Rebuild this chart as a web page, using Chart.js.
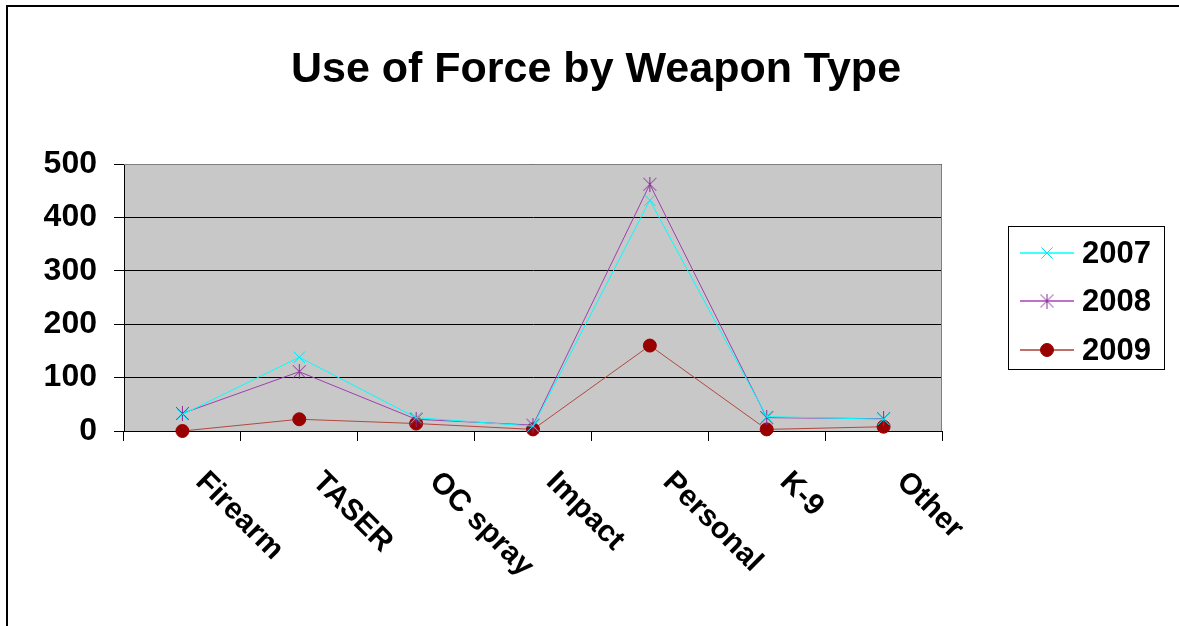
<!DOCTYPE html>
<html>
<head>
<meta charset="utf-8">
<title>Use of Force by Weapon Type</title>
<script src="https://cdn.jsdelivr.net/npm/chart.js@4"></script>
<style>
    body { margin: 0; background: #fff; }
    #wrap { width: 1179px; height: 626px; }
</style>
</head>
<body>
<div id="wrap"><canvas id="forceChart" width="1179" height="626"></canvas></div>
<script>
// Data
var weaponTypes = ['Firearm', 'TASER', 'OC spray', 'Impact', 'Personal', 'K-9', 'Other'];
var years = ['2007', '2008', '2009'];
var values2007 = [31, 138, 25, 9, 432, 27, 22];
var values2008 = [33, 111, 22, 11, 462, 25, 23];
var values2009 = [0, 22, 14, 3, 160, 3, 8];
var yTicks = [0, 100, 200, 300, 400, 500];

var FONT = '"Liberation Sans", Arial, sans-serif';

// Excel style asterisk marker (X with a vertical bar)
function starMarker(color) {
    var c = document.createElement('canvas');
    c.width = 15;
    c.height = 15;
    var g = c.getContext('2d');
    g.strokeStyle = color;
    g.lineWidth = 1;
    g.beginPath();
    g.moveTo(1, 1); g.lineTo(14, 14);
    g.moveTo(14, 1); g.lineTo(1, 14);
    g.moveTo(7.5, 0); g.lineTo(7.5, 15);
    g.stroke();
    return c;
}

// Plot background, frame, title, rotated category labels and legend
var decorPlugin = {
    id: 'decor',
    beforeDraw: function (chart) {
        var ctx = chart.ctx;
        var a = chart.chartArea;
        ctx.save();
        ctx.fillStyle = '#c8c8c8';
        ctx.fillRect(a.left, a.top, a.right - a.left, a.bottom - a.top);
        ctx.restore();
    },
    beforeDatasetsDraw: function (chart) {
        var ctx = chart.ctx;
        var a = chart.chartArea;
        ctx.save();
        ctx.strokeStyle = '#808080';
        ctx.lineWidth = 1;
        ctx.beginPath();
        ctx.moveTo(a.left, a.top + 0.5);
        ctx.lineTo(a.right - 0.5, a.top + 0.5);
        ctx.lineTo(a.right - 0.5, a.bottom);
        ctx.stroke();
        ctx.restore();
    },
    afterDraw: function (chart) {
        var ctx = chart.ctx;
        ctx.save();

        // outer frame
        ctx.strokeStyle = '#000';
        ctx.lineWidth = 2;
        ctx.beginPath();
        ctx.moveTo(7, 640);
        ctx.lineTo(7, 6);
        ctx.lineTo(1190, 6);
        ctx.stroke();

        // title
        ctx.fillStyle = '#000';
        ctx.font = 'bold 43px ' + FONT;
        ctx.textAlign = 'center';
        ctx.textBaseline = 'alphabetic';
        ctx.fillText('Use of Force by Weapon Type', 596, 82);

        // category labels, rotated 45 degrees clockwise
        var xScale = chart.scales.x;
        ctx.font = 'bold 30px ' + FONT;
        ctx.textAlign = 'left';
        chart.data.labels.forEach(function (label, i) {
            var x = xScale.getPixelForValue(i);
            ctx.save();
            ctx.translate(x + 12, 483);
            ctx.rotate(Math.PI / 4);
            ctx.fillText(label, 0, 0);
            ctx.restore();
        });

        // legend
        ctx.lineWidth = 1;
        ctx.strokeStyle = '#000';
        ctx.strokeRect(1008.5, 226.5, 156, 143);
        var rowY = [253, 301, 350];
        ctx.font = 'bold 31px ' + FONT;
        ctx.textBaseline = 'middle';
        chart.data.datasets.forEach(function (ds, i) {
            var y = rowY[i];
            ctx.strokeStyle = ds.legendLine;
            ctx.lineWidth = 2;
            ctx.beginPath();
            ctx.moveTo(1020, y);
            ctx.lineTo(1074, y);
            ctx.stroke();
            ctx.fillStyle = ds.pointBackgroundColor;
            ctx.strokeStyle = ds.pointBorderColor;
            ctx.lineWidth = 1;
            Chart.helpers.drawPoint(ctx, {
                pointStyle: ds.pointStyle,
                radius: ds.pointRadius,
                rotation: 0,
                borderWidth: 1
            }, 1047, y);
            ctx.fillStyle = '#000';
            ctx.fillText(ds.label, 1082, y + 1);
        });

        ctx.restore();
    }
};

var ctx = document.getElementById('forceChart').getContext('2d');
var forceChart = new Chart(ctx, {
    type: 'line',
    data: {
        labels: weaponTypes,
        datasets: [{
            label: years[0],
            data: values2007,
            borderColor: '#00ffff',
            legendLine: '#40ffff',
            borderWidth: 1,
            pointStyle: 'crossRot',
            pointRadius: 8,
            pointBorderColor: '#00e8f0',
            pointBackgroundColor: '#00e8f0',
            pointBorderWidth: 1
        }, {
            label: years[1],
            data: values2008,
            borderColor: '#a040b0',
            legendLine: '#c070c8',
            borderWidth: 1,
            pointStyle: starMarker('#8a2a9a'),
            pointRadius: 7,
            pointBorderColor: '#8a2a9a',
            pointBackgroundColor: '#8a2a9a',
            pointBorderWidth: 1
        }, {
            label: years[2],
            data: values2009,
            borderColor: '#b04a40',
            legendLine: '#c07068',
            borderWidth: 1,
            pointStyle: 'circle',
            pointRadius: 6.5,
            pointBorderColor: '#990000',
            pointBackgroundColor: '#990000',
            pointBorderWidth: 1
        }]
    },
    options: {
        responsive: false,
        animation: false,
        clip: false,
        layout: {
            padding: { top: 164, right: 237, bottom: 0, left: 0 }
        },
        plugins: {
            legend: { display: false },
            title: { display: false },
            tooltip: { enabled: false }
        },
        elements: {
            line: { tension: 0 }
        },
        scales: {
            x: {
                offset: true,
                afterFit: function (scale) { scale.height = 195; },
                ticks: { display: false },
                grid: {
                    offset: true,
                    drawOnChartArea: false,
                    drawTicks: true,
                    tickLength: 10,
                    color: '#000'
                },
                border: { color: '#000', width: 1 }
            },
            y: {
                min: yTicks[0],
                max: yTicks[yTicks.length - 1],
                afterFit: function (scale) { scale.width = 124; },
                afterBuildTicks: function (scale) {
                    scale.ticks = yTicks.map(function (v) { return { value: v }; });
                },
                ticks: {
                    padding: 17,
                    color: '#000',
                    font: { family: FONT, size: 32, weight: 'bold' }
                },
                grid: {
                    color: '#000',
                    tickLength: 10,
                    drawTicks: true
                },
                border: { color: '#000', width: 1 }
            }
        }
    },
    plugins: [decorPlugin]
});
</script>
</body>
</html>
